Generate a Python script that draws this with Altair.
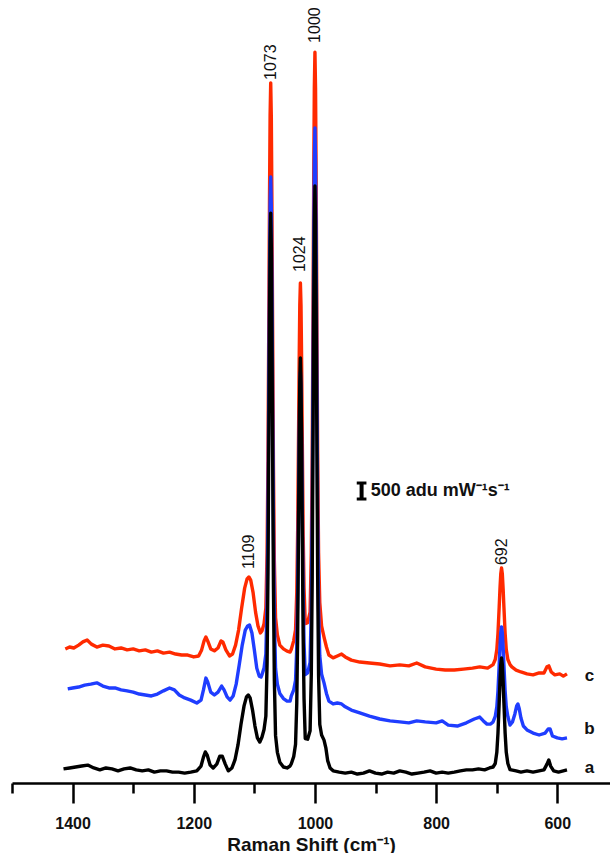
import altair as alt
import pandas as pd

# Raman shift (cm-1) and stacked intensity (adu) for each spectrum
spectrum_c = [
    (1412, 4190), (1405, 4250), (1398, 4220), (1390, 4310), (1383, 4410), (1376, 4470),
    (1369, 4340), (1360, 4250), (1350, 4310), (1340, 4280), (1330, 4190), (1320, 4220),
    (1310, 4160), (1300, 4190), (1290, 4130), (1280, 4160), (1270, 4090), (1260, 4130),
    (1250, 4060), (1240, 4090), (1230, 4030), (1220, 4000), (1210, 4000), (1200, 3940),
    (1192, 3970), (1187, 4160), (1183, 4440), (1180, 4560), (1177, 4440), (1172, 4190),
    (1166, 4130), (1160, 4220), (1155, 4440), (1152, 4410), (1147, 4160), (1141, 3970),
    (1136, 4030), (1131, 4310), (1126, 4780), (1121, 5470), (1116, 6090), (1112, 6380),
    (1109, 6440), (1106, 6340), (1102, 5940), (1098, 5340), (1094, 4910), (1090, 4690),
    (1087.5, 4750), (1084, 4980), (1081, 5470), (1079, 7200), (1077.5, 10170), (1076, 14920),
    (1075, 18250), (1074, 20860), (1073, 21880), (1072, 20810), (1071, 18150), (1070, 14770),
    (1068.5, 9970), (1067, 6950), (1065, 5170), (1062, 4630), (1058, 4310), (1052, 4190),
    (1046, 4120), (1041, 4090), (1039, 4180), (1035, 4450), (1032, 4790), (1030, 5950),
    (1028.5, 7900), (1027, 11020), (1026, 13210), (1025, 14940), (1024, 15630), (1023, 14940),
    (1022, 13210), (1021, 11020), (1019.5, 7900), (1018, 6100), (1016, 4980), (1012, 5010),
    (1008, 5340), (1006, 7200), (1004.5, 10280), (1003, 15340), (1002, 18900), (1001, 21720),
    (1000, 22840), (999, 21720), (998, 18900), (997, 15340), (995.5, 10280), (994, 7200),
    (992, 5640), (989, 4900), (985, 4560), (981, 4250), (977, 4000), (970, 3910),
    (963, 3970), (956, 4030), (950, 3940), (940, 3840), (926, 3780), (910, 3750),
    (893, 3720), (876, 3660), (860, 3690), (845, 3660), (832, 3750), (818, 3630),
    (800, 3560), (785, 3530), (770, 3530), (755, 3560), (740, 3590), (728, 3630),
    (715, 3590), (706, 3700), (702.4, 3860), (699.8, 4170), (697.9, 4680), (695.9, 5500),
    (694.6, 6070), (693.3, 6530), (692, 6720), (690.7, 6530), (689.4, 6070), (688.1, 5500),
    (686.1, 4680), (684.2, 4170), (681.6, 3860), (678, 3700), (675, 3630), (668, 3530),
    (660, 3470), (650, 3410), (640, 3380), (630, 3440), (622, 3440), (617, 3630),
    (614, 3660), (610, 3470), (604, 3380), (596, 3410), (590, 3340), (584, 3410),
]

spectrum_b = [
    (1408, 2940), (1400, 2970), (1390, 3000), (1380, 3060), (1370, 3090), (1360, 3130),
    (1350, 3030), (1340, 2970), (1330, 2970), (1320, 2910), (1310, 2880), (1300, 2840),
    (1290, 2780), (1280, 2750), (1270, 2720), (1260, 2780), (1250, 2880), (1240, 2970),
    (1232, 2910), (1224, 2750), (1215, 2660), (1205, 2590), (1195, 2500), (1188, 2590),
    (1184, 2910), (1180, 3280), (1177, 3160), (1172, 2840), (1166, 2750), (1160, 2840),
    (1154, 3030), (1150, 2910), (1145, 2690), (1140, 2590), (1135, 2720), (1130, 3090),
    (1125, 3690), (1120, 4310), (1115, 4780), (1111, 4910), (1108, 4940), (1104, 4690),
    (1100, 4160), (1096, 3590), (1092, 3340), (1089, 3310), (1087.5, 3380), (1084, 3590),
    (1081, 4030), (1079, 5610), (1077.5, 8340), (1076, 12700), (1075, 15760), (1074, 18160),
    (1073, 18940), (1072, 17960), (1071, 15510), (1070, 12400), (1068.5, 7990), (1067, 5210),
    (1065, 3580), (1062, 3090), (1058, 2800), (1052, 2640), (1046, 2560), (1041, 2560),
    (1039, 2720), (1035, 2910), (1032, 3210), (1030, 4240), (1028.5, 5980), (1027, 8740),
    (1026, 10690), (1025, 12230), (1024, 12840), (1023, 12230), (1022, 10690), (1021, 8740),
    (1019.5, 5980), (1018, 4380), (1016, 3390), (1012, 3440), (1008, 3770), (1006, 5510),
    (1004.5, 8500), (1003, 13320), (1002, 16720), (1001, 19400), (1000, 20470), (999, 19400),
    (998, 16720), (997, 13320), (995.5, 8500), (994, 5460), (992, 3970), (989, 3400),
    (985, 3130), (981, 2800), (977, 2560), (970, 2470), (963, 2500), (956, 2470),
    (950, 2380), (940, 2280), (926, 2190), (910, 2090), (893, 2000), (876, 1940),
    (860, 1910), (845, 1880), (832, 1940), (818, 1910), (800, 1880), (790, 1940),
    (780, 1810), (765, 1780), (750, 1880), (737, 2000), (728, 2060), (722, 1940),
    (716, 1840), (710, 1840), (706, 1910), (702.4, 2080), (699.8, 2380), (697.9, 2880),
    (695.9, 3690), (694.6, 4250), (693.3, 4700), (692, 4880), (690.7, 4700), (689.4, 4250),
    (688.1, 3690), (686.1, 2880), (684.2, 2380), (681.6, 2080), (678, 1810), (674, 1910),
    (670, 2160), (667, 2410), (665, 2470), (663, 2340), (660, 2030), (656, 1780),
    (650, 1660), (640, 1560), (630, 1500), (620, 1560), (615, 1690), (612, 1690),
    (608, 1470), (600, 1410), (592, 1380), (584, 1410),
]

spectrum_a = [
    (1415, 440), (1405, 470), (1395, 500), (1385, 530), (1375, 560), (1365, 470),
    (1355, 410), (1345, 470), (1335, 440), (1325, 380), (1315, 440), (1305, 470),
    (1295, 410), (1285, 380), (1275, 410), (1265, 340), (1255, 380), (1245, 380),
    (1235, 340), (1225, 340), (1215, 310), (1205, 340), (1195, 380), (1188, 530),
    (1184, 810), (1181, 970), (1178, 880), (1173, 560), (1168, 470), (1162, 590),
    (1157, 840), (1153, 840), (1148, 590), (1143, 380), (1137, 470), (1132, 720),
    (1127, 1190), (1122, 1840), (1117, 2410), (1113, 2690), (1110, 2750), (1107, 2660),
    (1103, 2280), (1099, 1780), (1095, 1410), (1091, 1280), (1087.5, 1430), (1084, 1670),
    (1081, 2090), (1079, 3730), (1077.5, 6580), (1076, 11170), (1075, 14370), (1074, 16880),
    (1073, 17810), (1072, 16770), (1071, 14160), (1070, 10860), (1068.5, 6170), (1067, 3220),
    (1065, 1480), (1062, 960), (1058, 650), (1052, 500), (1046, 470), (1041, 530),
    (1039, 600), (1035, 830), (1032, 1210), (1030, 2490), (1028.5, 4680), (1027, 8140),
    (1026, 10580), (1025, 12510), (1024, 13280), (1023, 12510), (1022, 10580), (1021, 8140),
    (1019.5, 4680), (1018, 2640), (1016, 1390), (1012, 1370), (1008, 1630), (1006, 3410),
    (1004.5, 6450), (1003, 11370), (1002, 14830), (1001, 17570), (1000, 18660), (999, 17570),
    (998, 14830), (997, 11370), (995.5, 6450), (994, 3360), (992, 1830), (989, 1500),
    (985, 1340), (982, 1100), (979, 700), (975, 470), (970, 380), (960, 340),
    (950, 310), (940, 340), (930, 280), (920, 310), (910, 380), (900, 310),
    (890, 280), (880, 340), (870, 310), (860, 380), (850, 340), (840, 280),
    (830, 310), (820, 340), (810, 380), (800, 310), (790, 340), (780, 310),
    (770, 340), (760, 380), (750, 410), (740, 410), (730, 440), (720, 410),
    (712, 470), (706, 500), (702.4, 610), (699.8, 960), (697.9, 1560), (695.9, 2510),
    (694.6, 3170), (693.3, 3700), (692, 3910), (690.7, 3700), (689.4, 3170), (688.1, 2510),
    (686.1, 1560), (684.2, 960), (681.6, 610), (678, 420), (668, 380), (660, 340),
    (650, 380), (640, 340), (630, 380), (622, 410), (617, 590), (614, 720),
    (611, 530), (606, 380), (598, 340), (590, 380), (584, 410),
]

# Band assignments and where their labels sit (adu)
peak_shifts = [1109, 1073, 1024, 1000, 692]
peak_label_heights = [6690, 21970, 15970, 23130, 6810]

# Trace letters at the right-hand end of each spectrum
trace_names = ["a", "b", "c"]
trace_label_heights = [470, 1690, 3340]
trace_label_shift = 547

major_ticks = [1400, 1200, 1000, 800, 600]
minor_ticks = [1500, 1300, 1100, 900, 700]

# Intensity scale bar
scale_bar_shift = 923
scale_bar_base = 8875
scale_bar_size = 500
scale_bar_text = "500 adu mW⁻¹s⁻¹"
scale_text_shift = 908

RED, BLUE, BLACK = "#ff2a00", "#1f3dff", "#000000"
FONT = "Liberation Sans"

x_scale = alt.Scale(domain=[1500, 513], nice=False, zero=False)
y_scale = alt.Scale(domain=[0, 24470], nice=False, zero=False)

major_axis = alt.Axis(
    values=major_ticks, orient="bottom", format="d", grid=False,
    tickSize=20, tickWidth=2.5, tickColor="black",
    domainColor="black", domainWidth=2.5,
    labelFont=FONT, labelFontSize=16, labelFontWeight="bold", labelColor="#111111",
    labelPadding=12, labelFlush=False,
    title="Raman Shift (cm⁻¹)", titleFont=FONT, titleFontSize=19,
    titleFontWeight="bold", titleColor="#111111", titleY=67, titleBaseline="alphabetic",
)
minor_axis = alt.Axis(
    values=minor_ticks, orient="bottom", grid=False, labels=False, domain=False,
    tickSize=10, tickWidth=2.5, tickColor="black", title=None,
)


def trace(points, color, axis):
    frame = pd.DataFrame(points, columns=["shift", "intensity"])
    return alt.Chart(frame).mark_line(
        color=color, strokeWidth=3.4, strokeJoin="round"
    ).encode(
        x=alt.X("shift:Q", scale=x_scale, axis=axis),
        y=alt.Y("intensity:Q", scale=y_scale, axis=None),
    )


layer_c = trace(spectrum_c, RED, minor_axis)
layer_b = trace(spectrum_b, BLUE, None)
layer_a = trace(spectrum_a, BLACK, major_axis)

peak_frame = pd.DataFrame({
    "shift": peak_shifts,
    "height": peak_label_heights,
    "label": [str(p) for p in peak_shifts],
})
peak_labels = alt.Chart(peak_frame).mark_text(
    angle=270, align="left", baseline="middle", font=FONT, fontSize=16, color="#111111"
).encode(
    x=alt.X("shift:Q", scale=x_scale, axis=None),
    y=alt.Y("height:Q", scale=y_scale, axis=None),
    text="label:N",
)

letter_frame = pd.DataFrame({
    "shift": [trace_label_shift] * len(trace_names),
    "height": trace_label_heights,
    "name": trace_names,
})
letters = alt.Chart(letter_frame).mark_text(
    align="center", baseline="middle", font=FONT, fontSize=17, fontWeight="bold", color="#111111"
).encode(
    x=alt.X("shift:Q", scale=x_scale, axis=None),
    y=alt.Y("height:Q", scale=y_scale, axis=None),
    text="name:N",
)

stem_frame = pd.DataFrame({
    "shift": [scale_bar_shift],
    "low": [scale_bar_base],
    "high": [scale_bar_base + scale_bar_size],
})
bar_stem = alt.Chart(stem_frame).mark_rule(color="black", strokeWidth=4).encode(
    x=alt.X("shift:Q", scale=x_scale, axis=None),
    y=alt.Y("low:Q", scale=y_scale, axis=None),
    y2="high:Q",
)
cap_frame = pd.DataFrame({
    "left": [scale_bar_shift + 8] * 2,
    "right": [scale_bar_shift - 8] * 2,
    "level": [scale_bar_base, scale_bar_base + scale_bar_size],
})
bar_caps = alt.Chart(cap_frame).mark_rule(color="black", strokeWidth=3).encode(
    x=alt.X("left:Q", scale=x_scale, axis=None),
    x2="right:Q",
    y=alt.Y("level:Q", scale=y_scale, axis=None),
)
text_frame = pd.DataFrame({
    "shift": [scale_text_shift],
    "height": [scale_bar_base + scale_bar_size / 2],
    "label": [scale_bar_text],
})
bar_text = alt.Chart(text_frame).mark_text(
    align="left", baseline="middle", font=FONT, fontSize=18, fontWeight="bold", color="#111111"
).encode(
    x=alt.X("shift:Q", scale=x_scale, axis=None),
    y=alt.Y("height:Q", scale=y_scale, axis=None),
    text="label:N",
)

chart = alt.layer(
    layer_c, layer_b, layer_a, peak_labels, letters, bar_stem, bar_caps, bar_text
).resolve_axis(
    x="independent"
).properties(
    width=598,
    height=783,
    autosize=alt.AutoSizeParams(type="none"),
    padding={"left": 12, "top": 0, "right": 0, "bottom": 70},
).configure_view(
    stroke=None
)

chart.save("out.html", embed_options={"renderer": "svg", "actions": False})
